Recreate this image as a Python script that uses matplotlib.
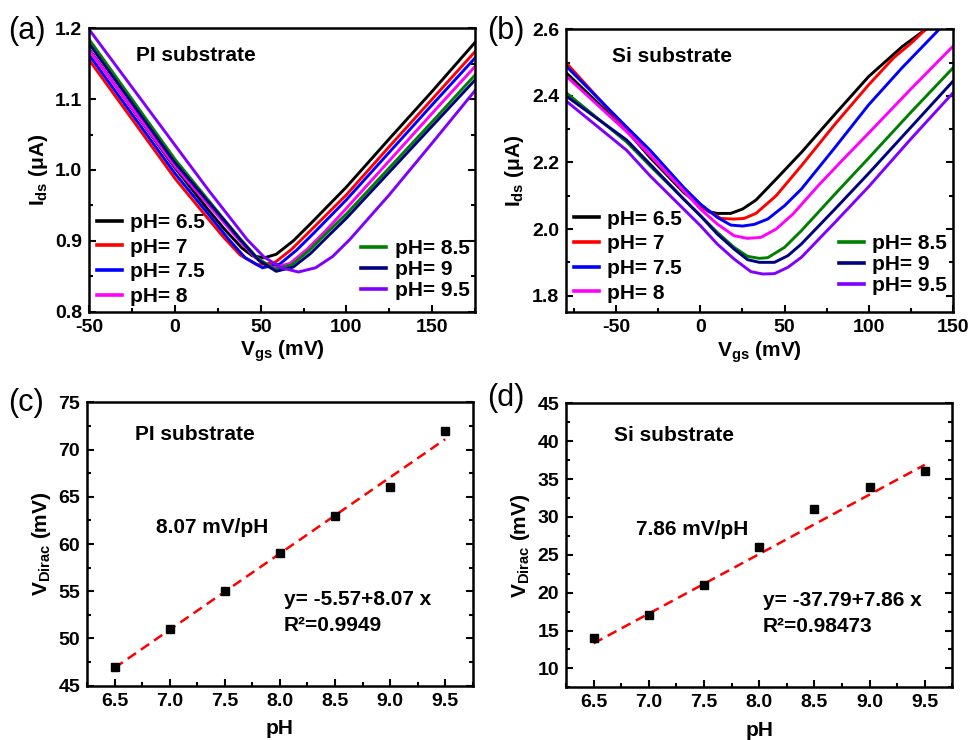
import matplotlib

matplotlib.use("Agg")

import matplotlib.pyplot as plt
import numpy as np
from matplotlib.ticker import MultipleLocator

plt.rcParams["font.family"] = ["Liberation Sans", "DejaVu Sans"]
plt.rcParams["font.weight"] = "bold"
plt.rcParams["axes.labelweight"] = "bold"
plt.rcParams["axes.unicode_minus"] = False
plt.rcParams["mathtext.fontset"] = "custom"
plt.rcParams["mathtext.rm"] = "Liberation Sans:bold"
plt.rcParams["mathtext.bf"] = "Liberation Sans:bold"
plt.rcParams["mathtext.it"] = "Liberation Sans:bold"
plt.rcParams["mathtext.default"] = "bf"

PH_LABELS = ["pH= 6.5", "pH= 7", "pH= 7.5", "pH= 8", "pH= 8.5", "pH= 9", "pH= 9.5"]
CURVE_COLORS = ["#000000", "#ff0000", "#0000ff", "#ff00ff", "#008000", "#000080", "#8000ff"]

# (a) PI substrate: Ids (uA) vs Vgs (mV), one curve per pH
pi_vgs_65 = [-50, 0, 19, 29, 39, 45, 52, 59, 69, 79, 100, 125, 150, 175]
pi_ids_65 = [1.170, 1.003, 0.945, 0.916, 0.890, 0.879, 0.876, 0.881, 0.900, 0.924, 0.976, 1.044, 1.111, 1.180]
pi_vgs_70 = [-50, 0, 18, 28, 38, 48, 58, 68, 78, 100, 125, 150, 175]
pi_ids_70 = [1.155, 0.988, 0.935, 0.906, 0.880, 0.866, 0.869, 0.888, 0.912, 0.965, 1.033, 1.100, 1.167]
pi_vgs_75 = [-50, 0, 21, 31, 41, 51, 61, 71, 81, 100, 125, 150, 175]
pi_ids_75 = [1.162, 0.995, 0.933, 0.903, 0.876, 0.862, 0.867, 0.887, 0.911, 0.958, 1.025, 1.092, 1.158]
pi_vgs_80 = [-50, 0, 27, 37, 47, 57, 67, 77, 87, 100, 125, 150, 175]
pi_ids_80 = [1.169, 1.005, 0.930, 0.902, 0.876, 0.862, 0.868, 0.888, 0.912, 0.946, 1.013, 1.080, 1.146]
pi_vgs_85 = [-50, 0, 28, 38, 48, 58, 68, 78, 88, 100, 125, 150, 175]
pi_ids_85 = [1.184, 1.015, 0.932, 0.903, 0.876, 0.860, 0.866, 0.886, 0.910, 0.938, 1.003, 1.068, 1.134]
pi_vgs_90 = [-50, 0, 29, 39, 49, 59, 69, 79, 89, 100, 125, 150, 175]
pi_ids_90 = [1.178, 1.010, 0.928, 0.899, 0.872, 0.857, 0.863, 0.882, 0.906, 0.932, 0.997, 1.062, 1.127]
pi_vgs_95 = [-50, 0, 20, 42, 52, 62, 72, 82, 92, 102, 125, 150, 175]
pi_ids_95 = [1.198, 1.035, 0.970, 0.902, 0.877, 0.862, 0.856, 0.862, 0.878, 0.902, 0.965, 1.038, 1.112]

# (b) Si substrate: Ids (uA) vs Vgs (mV)
si_vgs_65 = [-80, -44, -30, -10, 0, 5, 10, 18, 25, 33, 45, 60, 80, 100, 120, 134]
si_ids_65 = [2.47, 2.297, 2.215, 2.11, 2.07, 2.052, 2.047, 2.047, 2.06, 2.087, 2.15, 2.23, 2.345, 2.458, 2.548, 2.60]
si_vgs_70 = [-80, -44, -30, -10, 0, 8, 12, 20, 26, 33, 45, 60, 80, 100, 115, 125, 134]
si_ids_70 = [2.50, 2.30, 2.222, 2.115, 2.068, 2.045, 2.032, 2.03, 2.032, 2.047, 2.10, 2.19, 2.315, 2.433, 2.515, 2.557, 2.60]
si_vgs_75 = [-80, -44, -30, -10, 0, 10, 18, 25, 32, 40, 50, 60, 80, 100, 120, 142]
si_ids_75 = [2.49, 2.307, 2.237, 2.125, 2.075, 2.035, 2.012, 2.009, 2.014, 2.03, 2.07, 2.12, 2.245, 2.373, 2.485, 2.60]
si_vgs_80 = [-80, -44, -30, -10, 0, 10, 20, 28, 36, 45, 55, 70, 85, 100, 125, 150]
si_ids_80 = [2.46, 2.293, 2.222, 2.115, 2.06, 2.015, 1.98, 1.972, 1.975, 2.00, 2.045, 2.13, 2.21, 2.288, 2.42, 2.548]
si_vgs_85 = [-80, -44, -30, -10, 0, 10, 20, 28, 35, 40, 50, 60, 80, 100, 125, 150]
si_ids_85 = [2.41, 2.262, 2.19, 2.09, 2.04, 1.99, 1.945, 1.918, 1.912, 1.914, 1.945, 1.995, 2.105, 2.213, 2.35, 2.483]
si_vgs_90 = [-80, -44, -30, -10, 0, 10, 20, 28, 35, 44, 52, 60, 80, 100, 125, 150]
si_ids_90 = [2.40, 2.268, 2.195, 2.09, 2.04, 1.985, 1.94, 1.908, 1.90, 1.90, 1.92, 1.955, 2.06, 2.167, 2.305, 2.443]
si_vgs_95 = [-80, -44, -30, -10, 0, 10, 20, 30, 37, 44, 52, 60, 80, 100, 125, 150]
si_ids_95 = [2.385, 2.237, 2.16, 2.06, 2.01, 1.955, 1.91, 1.872, 1.865, 1.866, 1.885, 1.915, 2.02, 2.127, 2.27, 2.408]

# (c), (d) Dirac point vs pH with linear fits
ph_values = [6.5, 7.0, 7.5, 8.0, 8.5, 9.0, 9.5]
pi_vdirac = [47, 51, 55, 59, 63, 66, 72]
si_vdirac = [14, 17, 21, 26, 31, 34, 36]
pi_fit = (-5.57, 8.07)
si_fit = (-37.79, 7.86)


def style_axes(ax, xmaj, xmin, ymaj, ymin):
    ax.xaxis.set_major_locator(MultipleLocator(xmaj))
    ax.xaxis.set_minor_locator(MultipleLocator(xmin))
    ax.yaxis.set_major_locator(MultipleLocator(ymaj))
    ax.yaxis.set_minor_locator(MultipleLocator(ymin))
    ax.tick_params(which="both", direction="in", right=True, top=False, width=1.5,
                   labelsize=14, pad=5)
    ax.tick_params(which="major", length=5)
    ax.tick_params(which="minor", length=3)
    for spine in ax.spines.values():
        spine.set_linewidth(1.8)


def transfer_panel(ax, vgs_list, ids_list, text, left_y, right_y):
    lines = []
    for vgs, ids, color, label in zip(vgs_list, ids_list, CURVE_COLORS, PH_LABELS):
        (line,) = ax.plot(vgs, ids, color=color, lw=2.1, label=label)
        lines.append(line)
    ax.text(0.12, 0.905, text, transform=ax.transAxes, fontsize=15, va="center")
    ax.set_xlabel("V$_{gs}$ (mV)", fontsize=15, labelpad=2)
    ax.set_ylabel("I$_{ds}$ (μA)", fontsize=15, labelpad=4)
    opts = dict(frameon=False, fontsize=15, handlelength=1.2, handletextpad=0.4,
                borderpad=0, borderaxespad=0, loc="lower left")
    first = ax.legend(handles=lines[:4], bbox_to_anchor=(0.02, left_y),
                      labelspacing=0.27, **opts)
    for h in first.legend_handles:
        h.set_linewidth(2.6)
    ax.add_artist(first)
    second = ax.legend(handles=lines[4:], bbox_to_anchor=(0.705, right_y),
                       labelspacing=0.1, **opts)
    for h in second.legend_handles:
        h.set_linewidth(2.6)


def dirac_panel(ax, values, fit, text, slope_text, eq_text, r2_text):
    a, b = fit
    x_fit = np.array([ph_values[0], ph_values[-1]])
    ax.plot(x_fit, a + b * x_fit, color="#ff0000", lw=1.8, dashes=(4, 2.4))
    ax.plot(ph_values, values, ls="none", marker="s", ms=6, color="black")
    ax.set_xlim(6.25, 9.75)
    ax.xaxis.set_major_formatter(plt.FormatStrFormatter("%.1f"))
    ax.text(0.125, 0.885, text, transform=ax.transAxes, fontsize=15, va="center")
    ax.text(0.18, 0.557, slope_text, transform=ax.transAxes, fontsize=15, va="center")
    ax.text(0.51, 0.305, eq_text, transform=ax.transAxes, fontsize=15, va="center")
    ax.text(0.51, 0.214, r2_text, transform=ax.transAxes, fontsize=15, va="center")
    ax.set_xlabel("pH", fontsize=15, labelpad=7)
    ax.set_ylabel("V$_{Dirac}$ (mV)", fontsize=15, labelpad=4)


fig = plt.figure(figsize=(9.79, 7.40), dpi=100)
ax_a = fig.add_axes([0.0912, 0.5788, 0.3940, 0.3830])
ax_b = fig.add_axes([0.5781, 0.5780, 0.3950, 0.3824])
ax_c = fig.add_axes([0.0889, 0.0734, 0.3940, 0.3829])
ax_d = fig.add_axes([0.5781, 0.0712, 0.3947, 0.3838])

transfer_panel(
    ax_a,
    [pi_vgs_65, pi_vgs_70, pi_vgs_75, pi_vgs_80, pi_vgs_85, pi_vgs_90, pi_vgs_95],
    [pi_ids_65, pi_ids_70, pi_ids_75, pi_ids_80, pi_ids_85, pi_ids_90, pi_ids_95],
    "PI substrate", 0.02, 0.04,
)
ax_a.set_xlim(-50, 175)
ax_a.set_ylim(0.8, 1.2)
style_axes(ax_a, 50, 25, 0.1, 0.05)

transfer_panel(
    ax_b,
    [si_vgs_65, si_vgs_70, si_vgs_75, si_vgs_80, si_vgs_85, si_vgs_90, si_vgs_95],
    [si_ids_65, si_ids_70, si_ids_75, si_ids_80, si_ids_85, si_ids_90, si_ids_95],
    "Si substrate", 0.034, 0.061,
)
ax_b.set_xlim(-80, 150)
ax_b.set_ylim(1.75, 2.6)
style_axes(ax_b, 50, 25, 0.2, 0.1)

dirac_panel(ax_c, pi_vdirac, pi_fit, "PI substrate", "8.07 mV/pH",
            "y= -5.57+8.07 x", "R²=0.9949")
ax_c.set_ylim(45, 75)
style_axes(ax_c, 0.5, 0.25, 5, 2.5)

dirac_panel(ax_d, si_vdirac, si_fit, "Si substrate", "7.86 mV/pH",
            "y= -37.79+7.86 x", "R²=0.98473")
ax_d.set_ylim(7.5, 45)
style_axes(ax_d, 0.5, 0.25, 5, 2.5)

for label, x, y in [("(a)", 0.008, 0.958), ("(b)", 0.498, 0.958),
                    ("(c)", 0.008, 0.455), ("(d)", 0.498, 0.462)]:
    fig.text(x, y, label, fontsize=22, fontweight="normal", va="center", ha="left")

# Tick label Text objects only exist after a draw; make them bold afterwards.
fig.canvas.draw()
for ax in (ax_a, ax_b, ax_c, ax_d):
    for label in ax.get_xticklabels() + ax.get_yticklabels():
        label.set_fontweight("bold")

fig.savefig("out.png", dpi=100)
